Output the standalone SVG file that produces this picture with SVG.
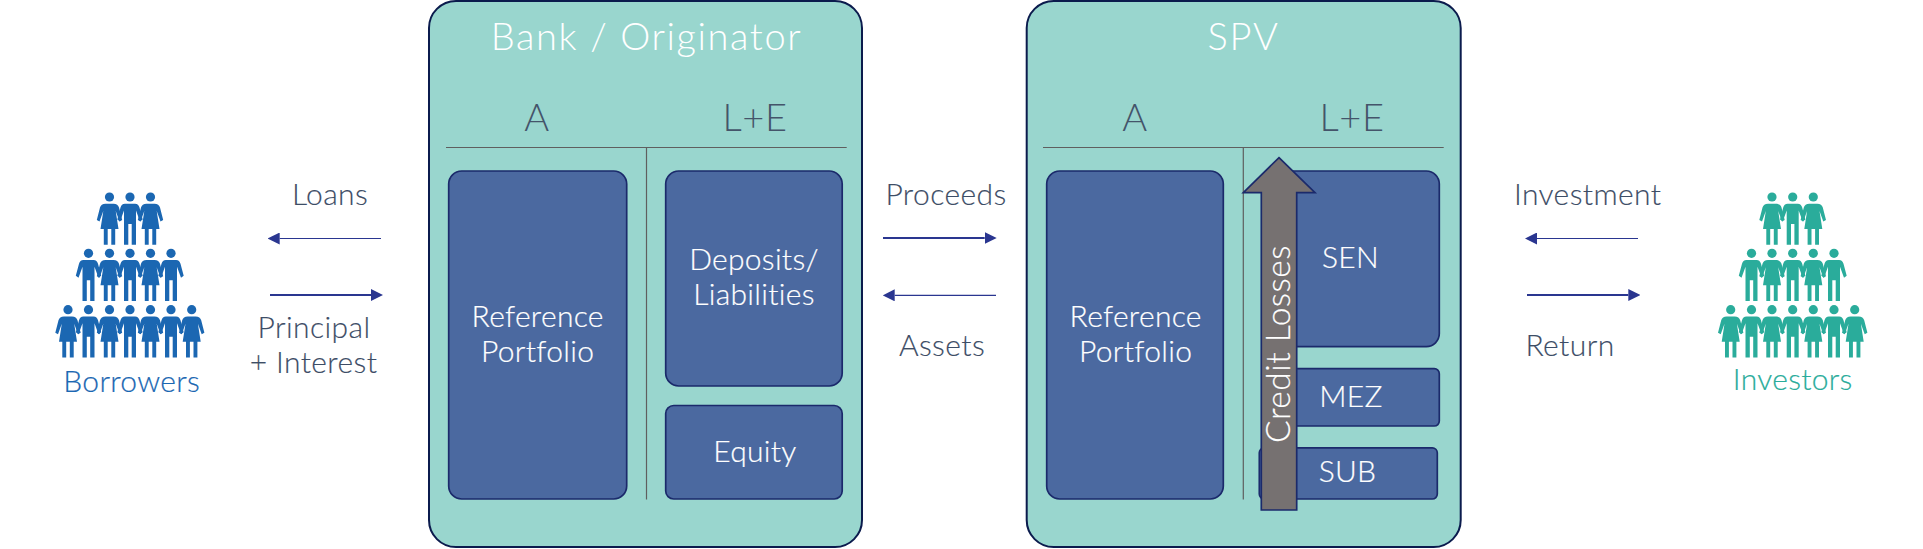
<svg xmlns="http://www.w3.org/2000/svg" xmlns:xlink="http://www.w3.org/1999/xlink" width="1923" height="549" viewBox="0 0 1923 549">
<style>
text{font-family:"Lato","Liberation Sans",sans-serif;font-weight:300;text-anchor:middle}
.outer{fill:#99d6ce;stroke:#0b1b4d;stroke-width:2}
.inner{fill:#4b69a0;stroke:#1b2a6b;stroke-width:1.7}
.rule{stroke:#5f5f5f;stroke-width:1.2;fill:none}
.title{font-size:38px;letter-spacing:1.6px;fill:#fff}
.head{font-size:38px;letter-spacing:.6px;fill:#44546a}
.w{font-size:30px;letter-spacing:.3px;fill:#fff;stroke:#fff;stroke-width:.2px}
.lab{font-size:30px;letter-spacing:.4px;fill:#3d4d66;stroke:#3d4d66;stroke-width:.15px}
.thin{stroke:#2a3690;stroke-width:1.2;fill:none;marker-end:url(#ah)}
.thick{stroke:#2a3690;stroke-width:2.2;fill:none;marker-end:url(#ah)}
#borrowers .p{fill:#1b67b2}
#investors .p{fill:#2aac9b}
</style>
<defs>
<marker id="ah" markerUnits="userSpaceOnUse" markerWidth="12" markerHeight="12" refX="0" refY="6" orient="auto"><path d="M0,0L12,6L0,12Z" fill="#2a3690"/></marker>
<g id="m"><circle r="4.6"/><path d="M-5,6.8H5C7.5,6.8 8.8,8.5 9.5,10.5L12.7,22.5L10,24.5L6,13.5V47.8H1.7V27H-1.7V47.8H-6V13.5L-10,24.5L-12.7,22.5L-9.5,10.5C-8.8,8.5-7.5,6.8-5,6.8Z"/></g>
<g id="f"><circle r="4.6"/><path d="M-4,6.8H4C7,6.8 8.8,8.5 9.5,10.5L12.7,23L10,24.5L6.2,14L9,32H5.7V47.8H1.8V32H-1.8V47.8H-5.7V32H-9L-6.2,14L-10,24.5L-12.7,23L-9.5,10.5C-8.8,8.5-7,6.8-4,6.8Z"/></g>
</defs>
<rect width="1923" height="549" fill="#fff"/>
<g id="connectors">
<path class="thin" d="M381,238.5H279.7"/>
<path class="thick" d="M270,295H371"/>
<path class="thick" d="M883,238H984.7"/>
<path class="thin" d="M996,295.3H894.7"/>
<path class="thin" d="M1638,238.5H1537"/>
<path class="thick" d="M1527,295H1628.3"/>
</g>
<g id="borrowers">
<g class="p">
<use href="#f" x="109.5" y="197"/><use href="#m" x="130" y="197"/><use href="#f" x="150.5" y="197"/>
<use href="#m" x="88.5" y="253.3"/><use href="#f" x="109.5" y="253.3"/><use href="#m" x="130" y="253.3"/><use href="#f" x="150.5" y="253.3"/><use href="#m" x="171" y="253.3"/>
<use href="#f" x="68" y="309.7"/><use href="#m" x="88.5" y="309.7"/><use href="#f" x="109.5" y="309.7"/><use href="#m" x="130" y="309.7"/><use href="#f" x="150.5" y="309.7"/><use href="#m" x="171" y="309.7"/><use href="#f" x="191.7" y="309.7"/>
</g>
<text x="131.7" y="392" style="font-size:30px;fill:#1b67b2;stroke:#1b67b2;stroke-width:.2px;letter-spacing:.3px">Borrowers</text>
</g>
<g id="investors">
<g class="p">
<use href="#f" x="1772" y="197"/><use href="#m" x="1792.7" y="197"/><use href="#f" x="1813.3" y="197"/>
<use href="#m" x="1751.5" y="253.3"/><use href="#f" x="1772" y="253.3"/><use href="#m" x="1792.7" y="253.3"/><use href="#f" x="1813.3" y="253.3"/><use href="#m" x="1834" y="253.3"/>
<use href="#f" x="1730.7" y="309.7"/><use href="#m" x="1751.5" y="309.7"/><use href="#f" x="1772" y="309.7"/><use href="#m" x="1792.7" y="309.7"/><use href="#f" x="1813.3" y="309.7"/><use href="#m" x="1834" y="309.7"/><use href="#f" x="1854.7" y="309.7"/>
</g>
<text x="1792.7" y="389.5" style="font-size:30px;fill:#2aac9b;stroke:#2aac9b;stroke-width:.2px;letter-spacing:.3px">Investors</text>
</g>
<g id="labels">
<text class="lab" x="330" y="205">Loans</text>
<text class="lab" x="314" y="338">Principal</text>
<text class="lab" x="313.5" y="372.7">+ Interest</text>
<text class="lab" x="946" y="205">Proceeds</text>
<text class="lab" x="942" y="355.7">Assets</text>
<text class="lab" x="1587.7" y="205">Investment</text>
<text class="lab" x="1570" y="355.7">Return</text>
</g>
<g id="bank">
<rect class="outer" x="429" y="1" width="433" height="546" rx="27"/>
<text class="title" x="646.5" y="50">Bank / Originator</text>
<text class="head" x="537" y="130.6">A</text>
<text class="head" x="755" y="130.6">L+E</text>
<path class="rule" d="M446,147.5H846.7M646.5,147.5V499.6"/>
<g id="bank-ref"><rect class="inner" x="448.7" y="171" width="178" height="328" rx="13"/>
<text class="w" x="537.7" y="327">Reference</text><text class="w" x="537.7" y="362">Portfolio</text></g>
<g id="bank-dep"><rect class="inner" x="665.7" y="171" width="176.5" height="215" rx="13"/>
<text class="w" x="754" y="269.6">Deposits/</text><text class="w" x="754" y="305">Liabilities</text></g>
<g id="bank-eq"><rect class="inner" x="665.7" y="405.5" width="176.5" height="93.5" rx="8"/>
<text class="w" x="755" y="462">Equity</text></g>
</g>
<g id="spv">
<rect class="outer" x="1026.7" y="1" width="434" height="546" rx="27"/>
<text class="title" x="1243.5" y="50">SPV</text>
<text class="head" x="1135" y="130.6">A</text>
<text class="head" x="1352" y="130.6">L+E</text>
<path class="rule" d="M1043,147.5H1443.7M1243.3,147.5V499.6"/>
<g id="spv-ref"><rect class="inner" x="1046.7" y="171" width="176.6" height="328" rx="13"/>
<text class="w" x="1135.7" y="327">Reference</text><text class="w" x="1135.7" y="362">Portfolio</text></g>
<g id="spv-sen"><rect class="inner" x="1262" y="171" width="177.3" height="175.6" rx="13"/>
<text class="w" x="1350.5" y="268">SEN</text></g>
<g id="spv-mez"><rect class="inner" x="1262" y="368.7" width="177.3" height="57.3" rx="5"/>
<text class="w" x="1351" y="407">MEZ</text></g>
<g id="spv-sub"><rect class="inner" x="1259.3" y="447.8" width="178" height="51.2" rx="5"/>
<text class="w" x="1347.5" y="482">SUB</text></g>
<g id="credit-losses">
<path d="M1279,157.6L1315,192.6H1296.7V510H1261.3V192.6H1243.3Z" fill="#767171" stroke="#1b2a6b" stroke-width="1.7"/>
<text x="1290" y="344" transform="rotate(-90 1290 344)" style="font-size:33.5px;fill:#fff;stroke:#fff;stroke-width:.2px;letter-spacing:.5px">Credit Losses</text>
</g>
</g>
</svg>
